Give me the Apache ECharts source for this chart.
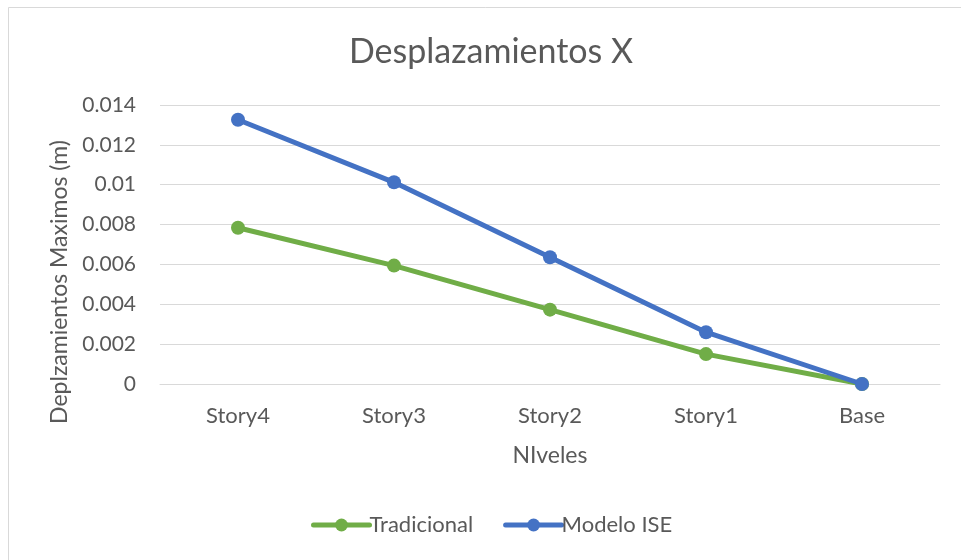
<!DOCTYPE html>
<html><head><meta charset="utf-8">
<script src="https://cdn.jsdelivr.net/npm/echarts@6/dist/echarts.min.js"></script>
<style>html,body{margin:0;padding:0;background:#fff}#c{width:961px;height:560px}</style>
</head><body><div id="c"></div>
<script>
const categories = ['Story4','Story3','Story2','Story1','Base'];
const tradicional = [0.00784, 0.00594, 0.00373, 0.0015, 0];
const modeloISE = [0.01326, 0.01012, 0.00636, 0.0026, 0];
const yTicks = [0, 0.002, 0.004, 0.006, 0.008, 0.01, 0.012, 0.014];

const font = 'Lato';
const txt = '#595959';
const chart = echarts.init(document.getElementById('c'), null, {renderer:'canvas'});
chart.setOption({
  animation:false,
  backgroundColor:'#fff',
  title:{text:'Desplazamientos X', left:486, top:30, textAlign:'center',
    textStyle:{fontFamily:font, fontSize:34, fontWeight:'normal', color:txt}},
  grid:{left:160, right:21, top:105, bottom:176, containLabel:false},
  legend:{bottom:19, left:306, itemWidth:56, itemHeight:16, itemGap:30,
    textStyle:{fontFamily:font, fontSize:22, color:txt, padding:[0,0,0,-5]},
    lineStyle:{width:5, cap:'round'},
    data:['Tradicional','Modelo ISE']},
  xAxis:{type:'category', data:categories, boundaryGap:true,
    axisLine:{show:true, lineStyle:{color:'#d9d9d9', width:1}},
    axisTick:{show:false},
    axisLabel:{fontFamily:font, fontSize:22, color:txt, margin:21},
    name:'NIveles', nameLocation:'middle', nameGap:60,
    nameTextStyle:{fontFamily:font, fontSize:23, color:txt}},
  yAxis:{type:'value', min:0, max:0.014, interval:0.002,
    axisLine:{show:false}, axisTick:{show:false},
    splitLine:{lineStyle:{color:'#d9d9d9', width:1}},
    axisLabel:{fontFamily:font, fontSize:21, color:txt, margin:24,
      formatter:function(v){ const t = yTicks.find(x=>Math.abs(x-v)<1e-9); return t===undefined?'':String(t);} }},
  graphic:[
    {type:'rect', shape:{x:8.5, y:7.5, width:1200, height:1200}, style:{fill:'none', stroke:'#d9d9d9', lineWidth:1}, z:-1},
    {type:'text', x:60, y:282, rotation:Math.PI/2, style:{text:'Deplzamientos Maximos (m)', fontFamily:font, fontSize:23, fill:txt, textAlign:'center', textVerticalAlign:'middle'}}
  ],
  series:[
    {name:'Tradicional', type:'line', data:tradicional, symbol:'circle', symbolSize:14,
      lineStyle:{color:'#70AD47', width:5}, itemStyle:{color:'#70AD47'}, z:2},
    {name:'Modelo ISE', type:'line', data:modeloISE, symbol:'circle', symbolSize:14,
      lineStyle:{color:'#4472C4', width:5}, itemStyle:{color:'#4472C4'}, z:3}
  ]
});
</script></body></html>
